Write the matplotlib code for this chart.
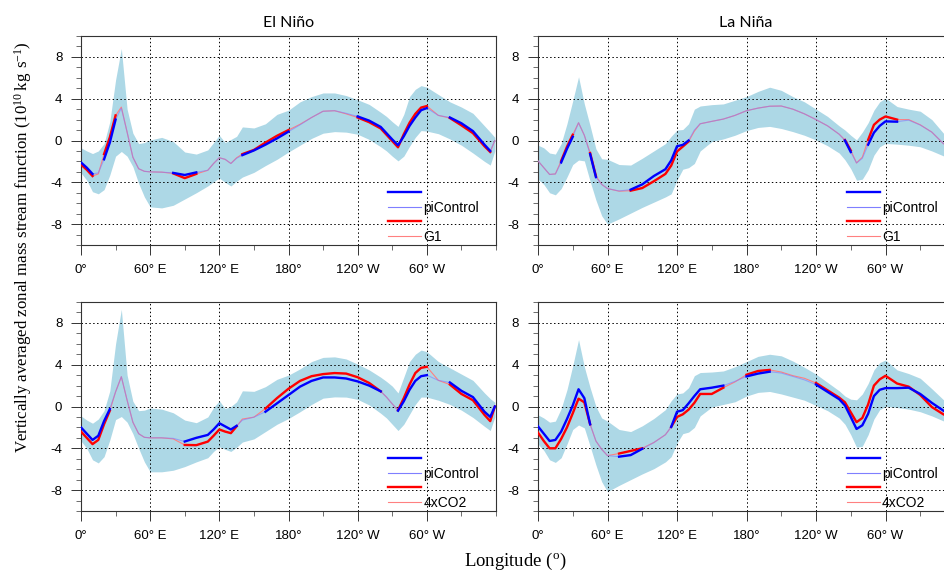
import numpy as np
import matplotlib
matplotlib.use("Agg")
import matplotlib.pyplot as plt
from matplotlib.lines import Line2D
from matplotlib.ticker import MultipleLocator

plt.rcParams['font.family'] = 'Liberation Sans'
plt.rcParams['axes.unicode_minus'] = False

# longitude grid (degrees east)
lon = np.array([0, 5, 10, 15, 20, 25, 30, 35, 40, 45, 50, 55, 60,
                70, 80, 90, 100, 110, 115, 120, 125, 130, 135, 140,
                150, 160, 170, 180, 190, 200, 210, 220, 230, 240, 250, 260,
                265, 270, 275, 280, 285, 290, 295, 300,
                310, 320, 330, 340, 350, 355, 359])

# El Nino, piControl vs G1
en_g1_ctrl = [-2.1, -2.6, -3.2, -3.1, -1.8, -0.2, 2.0, 3.1, 0.8, -1.6, -2.7, -2.95, -3.0,
              -3.03, -3.1, -3.3, -3.05, -2.85, -2.2, -1.65, -1.8, -2.2, -1.7, -1.4,
              -0.95, -0.4, 0.2, 0.85, 1.5, 2.2, 2.8, 2.85, 2.6, 2.3, 1.9, 1.3,
              0.7, 0.1, -0.45, 0.4, 1.4, 2.2, 2.9, 3.1,
              2.4, 2.2, 1.65, 0.9, -0.4, -1.0, 0.0]
en_g1_exp = [-2.3, -2.8, -3.4, -3.2, -1.3, 0.3, 2.4, 3.2, 0.8, -1.6, -2.7, -2.95, -3.0,
             -3.03, -3.15, -3.6, -3.2, -2.85, -2.2, -1.65, -1.8, -2.2, -1.65, -1.3,
             -0.9, -0.2, 0.45, 1.0, 1.55, 2.2, 2.8, 2.85, 2.55, 2.2, 1.75, 1.15,
             0.55, -0.05, -0.65, 0.6, 1.7, 2.55, 3.15, 3.3,
             2.4, 2.15, 1.45, 0.7, -0.55, -1.1, 0.0]
en_g1_hi = [-0.7, -1.0, -1.25, -1.0, -0.3, 1.8, 5.8, 8.8, 3.0, 0.7, -0.3, -0.2, 0.05,
            0.3, -0.1, -1.1, -1.3, -0.9, -0.2, 0.5, -0.2, 0.1, 0.4, 1.3,
            1.2, 1.6, 2.5, 2.9, 3.7, 4.2, 4.55, 4.55, 4.3, 3.9, 3.45, 2.7,
            2.3, 1.8, 1.35, 2.5, 4.2, 4.9, 5.25, 5.1,
            4.4, 3.7, 3.2, 2.6, 1.4, 0.8, 0.3]
en_g1_lo = [-3.1, -3.8, -4.9, -5.1, -4.7, -3.3, -1.5, -1.05, -1.5, -2.5, -4.1, -5.4, -6.35,
            -6.45, -6.2, -5.6, -5.0, -4.35, -3.95, -3.6, -4.0, -4.35, -3.9, -3.5,
            -3.05, -2.4, -1.8, -1.1, -0.45, 0.2, 0.7, 0.85, 0.8, 0.6, 0.1, -0.6,
            -1.0, -1.5, -1.95, -1.5, -0.55, 0.3, 0.95, 0.9,
            0.65, 0.15, -0.45, -1.2, -2.0, -2.35, -1.0]
en_g1_sig = [(0, 10), (20, 30), (80, 100), (140, 150), (160, 180),
             (240, 275), (280, 300), (320, 355)]

# La Nina, piControl vs G1
ln_g1_ctrl = [-1.95, -2.6, -3.25, -3.2, -2.1, -0.8, 0.35, 1.7, 0.5, -1.3, -3.5, -4.2, -4.6,
              -4.83, -4.7, -4.2, -3.4, -2.75, -1.9, -0.55, -0.42, 0.0, 1.0, 1.6,
              1.83, 2.05, 2.4, 2.85, 3.1, 3.28, 3.3, 3.0, 2.55, 2.0, 1.4, 0.6,
              0.0, -1.1, -2.15, -1.7, -0.4, 0.75, 1.4, 1.83,
              1.8, 1.95, 1.48, 0.8, -0.3, -0.6, -0.8]
ln_g1_exp = [-1.95, -2.6, -3.25, -3.2, -1.95, -0.6, 0.55, 1.7, 0.5, -1.2, -3.4, -4.2, -4.6,
             -4.85, -4.8, -4.55, -3.9, -3.2, -2.4, -1.05, -0.58, -0.1, 0.9, 1.6,
             1.83, 2.05, 2.4, 2.85, 3.1, 3.28, 3.3, 3.0, 2.55, 2.0, 1.4, 0.6,
             0.05, -0.95, -2.15, -1.6, 0.06, 1.5, 2.0, 2.3,
             2.0, 2.0, 1.5, 0.8, -0.3, -0.6, -0.8]
ln_g1_hi = [-0.45, -0.7, -1.2, -1.3, -0.3, 1.6, 3.8, 6.1, 3.5, 1.4, -0.8, -1.75, -1.8,
            -2.3, -2.35, -1.7, -1.0, -0.3, 0.4, 1.0, 1.05, 1.6, 3.0, 3.3,
            3.43, 3.5, 3.85, 4.2, 4.7, 5.1, 4.8, 4.2, 3.7, 3.0, 2.3, 1.4,
            1.0, 0.5, 0.06, 0.8, 1.7, 2.9, 3.7, 4.05,
            3.25, 3.0, 2.8, 2.0, 0.7, 0.4, 0.2]
ln_g1_lo = [-3.7, -4.2, -5.0, -5.2, -4.6, -3.5, -2.3, -1.87, -1.95, -3.9, -5.7, -7.2, -8.0,
            -7.5, -6.95, -6.4, -5.9, -5.4, -5.1, -3.8, -2.75, -2.6, -2.2, -1.0,
            -0.1, 0.15, 0.5, 0.95, 1.25, 1.35, 1.15, 0.85, 0.5, 0.05, -0.5, -1.2,
            -1.85, -2.7, -3.8, -3.7, -2.8, -1.4, -0.6, -0.28,
            -0.35, -0.45, -0.6, -1.0, -1.47, -1.6, -1.7]
ln_g1_sig = [(20, 30), (45, 50), (80, 130), (265, 270), (285, 310)]

# El Nino, piControl vs 4xCO2
en_co2_ctrl = [-2.0, -2.6, -3.2, -2.8, -1.4, -0.25, 1.4, 2.85, 0.6, -1.5, -2.6, -2.95, -3.0,
               -3.0, -3.05, -3.35, -3.0, -2.72, -2.2, -1.6, -1.9, -2.2, -1.85, -1.3,
               -1.02, -0.5, 0.3, 1.1, 1.9, 2.45, 2.78, 2.78, 2.68, 2.4, 2.0, 1.45,
               0.9, 0.25, -0.4, 0.5, 1.6, 2.45, 2.9, 3.0,
               2.5, 2.3, 1.5, 0.9, -0.5, -1.0, 0.0]
en_co2_exp = [-2.4, -3.0, -3.6, -3.2, -1.7, -0.4, 1.4, 2.85, 0.6, -1.5, -2.6, -2.95, -3.0,
              -3.0, -3.1, -3.68, -3.7, -3.36, -2.8, -2.2, -2.4, -2.55, -1.9, -1.2,
              -1.02, -0.2, 0.8, 1.7, 2.45, 2.9, 3.1, 3.2, 3.15, 2.8, 2.25, 1.45,
              0.9, 0.25, -0.35, 0.8, 2.1, 3.2, 3.7, 3.8,
              2.5, 2.1, 1.2, 0.6, -0.8, -1.4, 0.0]
en_co2_hi = [-0.9, -1.3, -1.6, -1.2, -0.4, 1.5, 6.0, 9.3, 3.0, 0.5, -0.4, -0.35, -0.15,
             -0.25, -0.6, -1.3, -1.55, -1.0, -0.1, 0.55, -0.2, 0.0, 0.45, 1.5,
             1.45, 1.9, 2.6, 3.0, 3.6, 4.3, 4.7, 4.75, 4.55, 4.05, 3.5, 2.8,
             2.4, 1.95, 1.3, 2.8, 4.3, 5.0, 5.4, 5.25,
             4.3, 3.7, 3.1, 2.5, 1.3, 0.75, 0.4]
en_co2_lo = [-3.3, -4.0, -5.1, -5.4, -4.8, -3.2, -1.25, -0.96, -1.5, -2.6, -4.0, -5.3, -6.25,
             -6.25, -6.1, -5.75, -5.3, -4.9, -4.3, -3.85, -4.1, -4.3, -3.9, -3.4,
             -3.1, -2.4, -1.7, -1.15, -0.5, 0.2, 0.8, 0.92, 0.9, 0.68, 0.15, -0.65,
             -1.1, -1.7, -2.3, -1.7, -0.75, 0.2, 0.9, 0.9,
             0.6, 0.2, -0.35, -1.05, -1.9, -2.3, -1.0]
en_co2_sig = [(0, 25), (90, 135), (160, 260), (275, 280), (285, 300), (320, 359)]

# La Nina, piControl vs 4xCO2
ln_co2_ctrl = [-1.9, -2.6, -3.3, -3.2, -2.4, -1.2, 0.1, 1.65, 0.8, -1.7, -3.3, -4.1, -4.7,
               -4.8, -4.65, -4.05, -3.45, -2.7, -1.95, -0.5, -0.35, 0.3, 1.0, 1.65,
               1.8, 2.0, 2.4, 2.88, 3.15, 3.33, 3.2, 2.88, 2.55, 2.1, 1.4, 0.7,
               0.1, -1.0, -2.15, -1.8, -0.7, 1.0, 1.6, 1.76,
               1.76, 1.8, 1.2, 0.35, -0.4, -0.7, -0.9]
ln_co2_exp = [-2.5, -3.3, -4.0, -4.0, -3.1, -2.0, -0.65, 0.75, 0.4, -1.7, -3.3, -4.1, -4.7,
              -4.5, -4.25, -4.0, -3.45, -2.7, -1.95, -1.0, -0.75, -0.3, 0.35, 1.2,
              1.2, 1.8, 2.35, 3.04, 3.4, 3.5, 3.3, 2.95, 2.7, 2.25, 1.55, 0.85,
              0.4, -0.55, -1.5, -1.1, 0.2, 2.0, 2.6, 2.94,
              2.2, 1.9, 1.1, -0.05, -0.75, -1.0, -1.2]
ln_co2_hi = [-0.8, -1.1, -1.5, -1.4, -0.2, 1.6, 3.9, 6.4, 3.8, 1.8, 0.0, -1.1, -1.4,
             -2.2, -2.4, -1.85, -1.15, -0.3, 0.55, 1.2, 1.3, 1.8, 2.95, 3.25,
             3.3, 3.4, 3.8, 4.3, 4.8, 5.0, 4.85, 4.35, 3.75, 3.1, 2.3, 1.5,
             1.0, 0.7, 0.64, 1.2, 2.2, 3.5, 4.2, 4.45,
             3.5, 3.15, 2.7, 1.7, 0.65, 0.4, 0.2]
ln_co2_lo = [-3.6, -4.2, -5.1, -5.35, -4.9, -3.6, -2.2, -1.77, -2.05, -3.8, -5.6, -7.2, -8.15,
             -7.55, -7.0, -6.45, -5.95, -5.3, -4.8, -3.5, -2.6, -2.45, -2.0, -0.9,
             -0.05, 0.2, 0.45, 1.0, 1.35, 1.44, 1.2, 0.9, 0.6, 0.1, -0.4, -1.1,
             -1.7, -2.7, -3.9, -3.8, -2.7, -1.2, -0.3, 0.0,
             -0.1, -0.25, -0.5, -0.9, -1.38, -1.5, -1.6]
ln_co2_sig = [(0, 45), (70, 90), (115, 165), (180, 200), (240, 359)]

xticks = [0, 60, 120, 180, 240, 300]
xticklabels = ['0°', '60° E', '120° E', '180°', '120° W', '60° W']

BAND = '#add8e6'
CTRL_THIN = '#7f7fff'
EXP_THIN = '#ff8080'


def sig_mask(ranges):
    mask = np.zeros(lon.shape, dtype=bool)
    for a, b in ranges:
        mask |= (lon >= a) & (lon <= b)
    return mask


def draw_panel(ax, ctrl, exp, lo, hi, sig, exp_name):
    ctrl = np.array(ctrl)
    exp = np.array(exp)
    ax.fill_between(lon, lo, hi, color=BAND, lw=0, zorder=1)
    # thin full-length curves, the control one on top so the overlap reads purple
    ax.plot(lon, exp, color=EXP_THIN, lw=0.8, zorder=3)
    ax.plot(lon, ctrl, color=CTRL_THIN, lw=0.8, alpha=0.6, zorder=3)
    # thick segments where the difference is significant
    m = sig_mask(sig)
    ax.plot(lon, np.where(m, exp, np.nan), color='red', lw=1.7, zorder=4)
    ax.plot(lon, np.where(m, ctrl, np.nan), color='blue', lw=1.7, zorder=5)

    ax.set_xlim(0, 360)
    ax.set_ylim(-10, 10)
    ax.set_xticks(xticks)
    ax.set_xticklabels(xticklabels)
    ax.xaxis.set_minor_locator(MultipleLocator(30))
    ax.set_yticks([-8, -4, 0, 4, 8])
    ax.yaxis.set_minor_locator(MultipleLocator(1))
    ax.tick_params(which='major', direction='out', length=7.5, width=0.7,
                   labelsize=9.5, pad=6, color='#333333')
    ax.tick_params(which='minor', direction='out', length=3.6, width=0.6,
                   color='#555555')
    ax.set_axisbelow('line')
    ax.grid(True, which='major', color='black', lw=0.7, linestyle=(0, (1.5, 2.5)))
    for s in ax.spines.values():
        s.set_linewidth(0.8)
        s.set_color('#333333')

    handles = [Line2D([], [], color='blue', lw=1.7),
               Line2D([], [], color=CTRL_THIN, lw=0.8),
               Line2D([], [], color='red', lw=1.7),
               Line2D([], [], color=EXP_THIN, lw=0.8)]
    ax.legend(handles, ['', 'piControl', '', exp_name], loc='lower left',
              bbox_to_anchor=(0.72, -0.035), frameon=False, fontsize=10,
              handlelength=2.4, handletextpad=0.15, labelspacing=0.05,
              borderaxespad=0.2)


fig = plt.figure(figsize=(9.44, 5.73), dpi=100)
W, H = 944.0, 573.0
ax_tl = fig.add_axes([81 / W, 1 - 245 / H, 415 / W, 209 / H])
ax_tr = fig.add_axes([538 / W, 1 - 245 / H, 417 / W, 209 / H])
ax_bl = fig.add_axes([81 / W, 1 - 511 / H, 415 / W, 209 / H])
ax_br = fig.add_axes([538 / W, 1 - 511 / H, 417 / W, 209 / H])

draw_panel(ax_tl, en_g1_ctrl, en_g1_exp, en_g1_lo, en_g1_hi, en_g1_sig, 'G1')
draw_panel(ax_tr, ln_g1_ctrl, ln_g1_exp, ln_g1_lo, ln_g1_hi, ln_g1_sig, 'G1')
draw_panel(ax_bl, en_co2_ctrl, en_co2_exp, en_co2_lo, en_co2_hi, en_co2_sig, '4xCO2')
draw_panel(ax_br, ln_co2_ctrl, ln_co2_exp, ln_co2_lo, ln_co2_hi, ln_co2_sig, '4xCO2')

for ax, title, xc in [(ax_tl, 'El Niño', 0.5), (ax_tr, 'La Niña', (746 - 538) / 417)]:
    ax.text(xc, 1.043, title, transform=ax.transAxes, ha='center',
            va='baseline', fontsize=11.5, family='Lato')

fig.text(22.7 / W, 1 - 247 / H,
         r'Vertically averaged zonal mass stream function $\mathregular{(10^{10}\,kg\ s^{-1})}$',
         rotation=90, ha='center', va='center', fontsize=12.2,
         family='Liberation Serif')
fig.text(515 / W, 1 - 566 / H, r'Longitude ($\mathregular{^o}$)',
         ha='center', va='baseline', fontsize=13.5, family='Liberation Serif')

fig.savefig('out.png', dpi=100)
